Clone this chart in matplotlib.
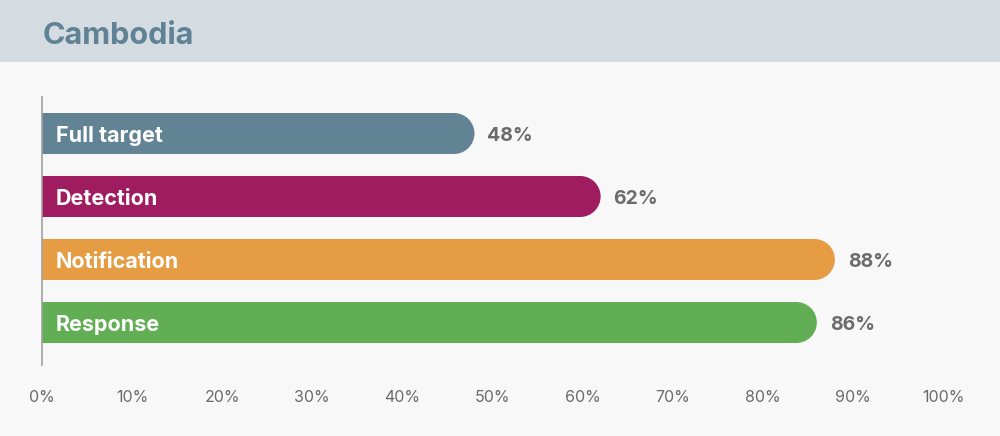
import matplotlib.pyplot as plt
from matplotlib.patches import Rectangle, Ellipse

# data
categories = ['Full target', 'Detection', 'Notification', 'Response']
values = [48, 62, 88, 86]
colors = ['#628394', '#9e1c5f', '#e59c42', '#61ae54']
ticks = [0, 10, 20, 30, 40, 50, 60, 70, 80, 90, 100]
tick_labels = [f'{t}%' for t in ticks]

W, H = 1000, 436
fig = plt.figure(figsize=(W / 100, H / 100), dpi=100, facecolor='#f8f8f8')

# header band
fig.patches.append(Rectangle((0, 1 - 62 / H), 1, 62 / H, transform=fig.transFigure,
                             facecolor='#d4dce2', edgecolor='none', zorder=0))
fig.text(43 / W, 1 - 36 / H, 'Cambodia', fontsize=22, fontweight='bold',
         color='#5f8294', va='center', ha='left', family='Inter')

ax = fig.add_axes([42 / W, 71 / H, 901 / W, 268 / H])
ax.set_facecolor('none')
ax.set_xlim(0, 100)
ax.set_ylim(3 + 42.5 / 63, -36.5 / 63)

bar_h = 41 / 63
px_per_unit = 901 / 100
r = (bar_h * 63 / 2) / px_per_unit  # cap radius in x data units

for i, (cat, v, c) in enumerate(zip(categories, values, colors)):
    ax.add_patch(Rectangle((0, i - bar_h / 2), v - r, bar_h, facecolor=c, edgecolor='none'))
    ax.add_patch(Ellipse((v - r, i), 2 * r, bar_h, facecolor=c, edgecolor='none'))
    ax.text(14 / px_per_unit, i + 0.04, cat, color='white', fontsize=15.5, fontweight='bold',
            va='center', ha='left', family='Inter')
    ax.text(v + 13 / px_per_unit, i + 0.04, f'{v}%', color='#6b6b6b', fontsize=14,
            fontweight='bold', va='center', ha='left', family='Inter')

for s in ['top', 'right', 'bottom']:
    ax.spines[s].set_visible(False)
ax.spines['left'].set_color('#a0a0a0')
ax.spines['left'].set_linewidth(1.2)
ax.set_yticks([])
ax.set_xticks(ticks)
ax.set_xticklabels(tick_labels, fontsize=11.5, color='#6b6b6b', family='Inter')
ax.tick_params(axis='x', length=0, pad=18)

fig.savefig('out.png', dpi=100, facecolor=fig.get_facecolor())
